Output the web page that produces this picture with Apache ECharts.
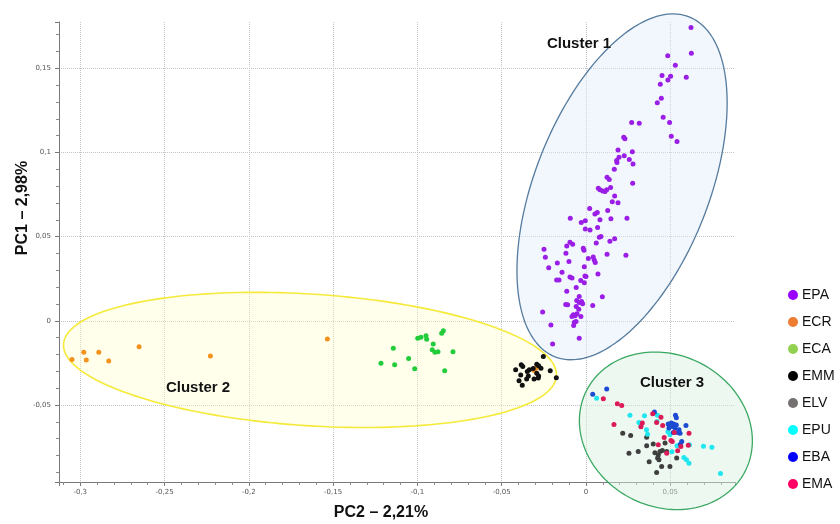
<!DOCTYPE html>
<html><head><meta charset="utf-8">
<script src="https://cdn.jsdelivr.net/npm/echarts@6/dist/echarts.min.js"></script>
<style>html,body{margin:0;padding:0;background:#fff}#c{width:840px;height:524px}</style>
</head><body><div id="c"></div>
<script>
// ---- data ----
const groupNames = ['EPA','ECR','ECA','EMM','ELV','EPU','EBA','EMA'];
const xTickLabels = [-0.3,-0.25,-0.2,-0.15,-0.1,-0.05,0,0.05];
const yTickLabels = [-0.05,0,0.05,0.1,0.15];
const EPA = [[0.0623,0.1742],[0.0625,0.1590],[0.0485,0.1575],[0.0530,0.1518],[0.0451,0.1457],[0.0502,0.1453],[0.0486,0.1431],[0.0595,0.1447],[0.0441,0.1406],[0.0447,0.1322],[0.0423,0.1296],[0.0458,0.1210],[0.0496,0.1178],[0.0271,0.1178],[0.0316,0.1174],[0.0224,0.1091],[0.0231,0.1081],[0.0506,0.1097],[0.0540,0.1065],[0.0190,0.1015],[0.0275,0.1005],[0.0227,0.0980],[0.0196,0.0972],[0.0182,0.0952],[0.0184,0.0940],[0.0257,0.0958],[0.0279,0.0931],[0.0168,0.0901],[0.0125,0.0853],[0.0138,0.0839],[0.0277,0.0818],[0.0073,0.0788],[0.0083,0.0778],[0.0099,0.0772],[0.0113,0.0768],[0.0123,0.0778],[0.0146,0.0792],[0.0170,0.0742],[0.0156,0.0707],[0.0190,0.0702],[0.0022,0.0667],[0.0129,0.0655],[0.0053,0.0635],[0.0067,0.0643],[-0.0093,0.0610],[0.0083,0.0600],[0.0148,0.0606],[0.0243,0.0610],[-0.0028,0.0584],[-0.0004,0.0594],[0.0069,0.0554],[-0.0004,0.0545],[0.0024,0.0540],[0.0170,0.0487],[0.0142,0.0473],[0.0079,0.0497],[0.0089,0.0501],[0.0061,0.0463],[-0.0095,0.0467],[-0.0079,0.0455],[-0.0114,0.0445],[-0.0016,0.0432],[-0.0012,0.0420],[-0.0249,0.0426],[-0.0119,0.0402],[0.0125,0.0396],[0.0237,0.0390],[-0.0241,0.0378],[0.0014,0.0370],[0.0043,0.0380],[0.0049,0.0362],[0.0055,0.0346],[-0.0101,0.0352],[-0.0170,0.0343],[-0.0010,0.0322],[-0.0221,0.0315],[-0.0142,0.0289],[0.0071,0.0279],[-0.0095,0.0260],[-0.0083,0.0254],[-0.0006,0.0267],[0.0000,0.0263],[-0.0174,0.0243],[-0.0160,0.0243],[-0.0031,0.0239],[-0.0010,0.0227],[-0.0058,0.0198],[-0.0114,0.0176],[-0.0040,0.0144],[0.0097,0.0143],[-0.0055,0.0121],[-0.0040,0.0109],[-0.0026,0.0115],[-0.0020,0.0101],[-0.0120,0.0097],[-0.0109,0.0095],[0.0040,0.0091],[-0.0058,0.0085],[-0.0043,0.0069],[-0.0257,0.0052],[-0.0075,0.0036],[-0.0065,0.0030],[-0.0053,0.0042],[-0.0030,0.0026],[-0.0083,0.0026],[-0.0069,-0.0008],[-0.0059,-0.0004],[-0.0073,-0.0028],[-0.0208,-0.0024],[-0.0040,-0.0103],[-0.0198,-0.0138]];
const ECR = [[-0.3049,-0.0230],[-0.2979,-0.0186],[-0.2964,-0.0233],[-0.2890,-0.0186],[-0.2831,-0.0239],[-0.2651,-0.0153],[-0.2228,-0.0208],[-0.1534,-0.0107],[-0.0307,-0.0295],[-0.0295,-0.0280]];
const ECA = [[-0.1216,-0.0251],[-0.1143,-0.0162],[-0.1135,-0.0261],[-0.1052,-0.0224],[-0.1016,-0.0285],[-0.0998,-0.0103],[-0.0979,-0.0097],[-0.0949,-0.0089],[-0.0945,-0.0109],[-0.0906,-0.0138],[-0.0912,-0.0172],[-0.0896,-0.0186],[-0.0878,-0.0184],[-0.0856,-0.0073],[-0.0846,-0.0059],[-0.0789,-0.0184],[-0.0838,-0.0297]];
const EMM = [[-0.0417,-0.0291],[-0.0387,-0.0321],[-0.0384,-0.0261],[-0.0375,-0.0271],[-0.0397,-0.0356],[-0.0378,-0.0382],[-0.0348,-0.0301],[-0.0342,-0.0327],[-0.0352,-0.0346],[-0.0336,-0.0291],[-0.0313,-0.0283],[-0.0292,-0.0257],[-0.0281,-0.0267],[-0.0267,-0.0281],[-0.0292,-0.0311],[-0.0281,-0.0327],[-0.0308,-0.0346],[-0.0283,-0.0340],[-0.0253,-0.0212],[-0.0212,-0.0297],[-0.0176,-0.0338]];
const ELV = [[0.0218,-0.0667],[0.0265,-0.0681],[0.0360,-0.0691],[0.0360,-0.0742],[0.0399,-0.0732],[0.0310,-0.0776],[0.0255,-0.0786],[0.0375,-0.0836],[0.0429,-0.0796],[0.0425,-0.0815],[0.0439,-0.0776],[0.0453,-0.0770],[0.0479,-0.0776],[0.0469,-0.0726],[0.0449,-0.0865],[0.0498,-0.0865],[0.0419,-0.0901],[0.0538,-0.0815],[0.0409,-0.0784],[0.0433,-0.0825]];
const EPU = [[0.0063,-0.0459],[0.0261,-0.0561],[0.0347,-0.0564],[0.0424,-0.0561],[0.0314,-0.0603],[0.0326,-0.0624],[0.0359,-0.0647],[0.0365,-0.0674],[0.0421,-0.0597],[0.0510,-0.0778],[0.0540,-0.0742],[0.0498,-0.0677],[0.0581,-0.0811],[0.0596,-0.0825],[0.0611,-0.0846],[0.0614,-0.0736],[0.0697,-0.0745],[0.0747,-0.0751],[0.0798,-0.0906],[0.0486,-0.0659]];
const EBA = [[0.0040,-0.0436],[0.0123,-0.0404],[0.0406,-0.0542],[0.0531,-0.0561],[0.0536,-0.0576],[0.0488,-0.0613],[0.0506,-0.0607],[0.0520,-0.0613],[0.0536,-0.0619],[0.0492,-0.0637],[0.0512,-0.0628],[0.0528,-0.0637],[0.0552,-0.0647],[0.0558,-0.0667],[0.0518,-0.0663],[0.0544,-0.0663],[0.0593,-0.0622],[0.0568,-0.0717],[0.0560,-0.0733]];
const EMA = [[0.0103,-0.0463],[0.0186,-0.0493],[0.0212,-0.0503],[0.0166,-0.0615],[0.0334,-0.0607],[0.0326,-0.0629],[0.0419,-0.0604],[0.0445,-0.0572],[0.0455,-0.0622],[0.0524,-0.0663],[0.0611,-0.0667],[0.0464,-0.0693],[0.0504,-0.0711],[0.0512,-0.0717],[0.0429,-0.0736],[0.0563,-0.0746],[0.0544,-0.0772],[0.0607,-0.0738],[0.0479,-0.0786],[0.0396,-0.0552]];
const groupData = [EPA, ECR, ECA, EMM, ELV, EPU, EBA, EMA];
// cluster ellipses: [centerX, centerY, semiMajor, semiMinor, angleDeg]
const clusterNames = ['Cluster 1','Cluster 2','Cluster 3'];
const clusterEllipses = [[0.0214,0.0796,0.1085,0.0516,68.5],[-0.1637,-0.0232,0.1465,0.0391,-3.7],[0.0474,-0.0653,0.0528,0.0451,-27]];

// ---- styles ----
const pointColors = ['#9a1ee6','#f5921e','#22cc3a','#111111','#3f3f3f','#20e6ef','#1c4ad2','#dc1a58'];
const legendColors = ['#9900ff','#ed7d31','#92d050','#000000','#767171','#00ffff','#0000ff','#ff0066'];
const ellFill = ['rgba(225,237,250,0.45)','rgba(255,255,200,0.35)','rgba(215,240,222,0.45)'];
const ellStroke = ['#557b9e','#f5ea3a','#3aa862'];

const chart = echarts.init(document.getElementById('c'), null, {renderer:'canvas'});
function fmt(v){
  if (Math.abs(v*20 - Math.round(v*20)) > 1e-6) return '';
  const r = Math.round(v*100)/100;
  return String(r).replace('.', ',');
}
const axisCommon = {
  type:'value',
  splitLine:{show:true, showMinLine:false, showMaxLine:false, lineStyle:{color:'#c4c4c4', type:'dotted', width:1}},
  axisLine:{show:true, onZero:false, lineStyle:{color:'#7a7a7a', width:1}},
  axisTick:{show:true, length:4, lineStyle:{color:'#7a7a7a'}},
  minorTick:{show:true, splitNumber:5, length:3, lineStyle:{color:'#8a8a8a'}},
  axisLabel:{fontSize:7, color:'#555', fontFamily:'DejaVu Sans', formatter:fmt, showMinLabel:false, showMaxLabel:false},
};
const series = [{
  type:'custom', name:'clusters', z:1, clip:false, silent:true,
  encode:{x:0, y:1},
  data: clusterEllipses,
  renderItem: function(params, api){
    const cx=api.value(0), cy=api.value(1), a=api.value(2), b=api.value(3), ang=api.value(4)*Math.PI/180;
    const pts=[];
    for(let i=0;i<180;i++){
      const t=i/180*2*Math.PI, ux=a*Math.cos(t), uy=b*Math.sin(t);
      pts.push(api.coord([cx+ux*Math.cos(ang)-uy*Math.sin(ang), cy+ux*Math.sin(ang)+uy*Math.cos(ang)]));
    }
    const i=params.dataIndex;
    return {type:'polygon', shape:{points:pts}, style:{fill:ellFill[i], stroke:ellStroke[i], lineWidth: i===1?1.6:1.3}};
  }
}];
groupNames.forEach((n,i)=>{
  series.push({type:'scatter', name:n, data:groupData[i], symbol:'circle', symbolSize:5, z:3,
    itemStyle:{color:pointColors[i], opacity:1}});
});
const titleFont = 'bold 16px "Liberation Sans"';
const clusterFont = 'bold 15px "Liberation Sans"';
chart.setOption({
  animation:false,
  backgroundColor:'#ffffff',
  grid:{left:59, right:105, top:22, bottom:42, containLabel:false},
  xAxis: Object.assign({}, axisCommon, {min:-0.3126, max:0.0884, splitNumber:8,
    axisLabel:Object.assign({}, axisCommon.axisLabel, {margin:7})}),
  yAxis: Object.assign({}, axisCommon, {min:-0.0957, max:0.1775, splitNumber:5,
    axisLabel:Object.assign({}, axisCommon.axisLabel, {margin:8})}),
  legend:{
    orient:'vertical', left:783, top:283, itemWidth:10, itemHeight:10, itemGap:13, icon:'circle',
    textStyle:{fontSize:14, color:'#111', fontFamily:'Liberation Sans', padding:[0,0,0,-1]},
    data: groupNames.map((n,i)=>({name:n, itemStyle:{color:legendColors[i]}}))
  },
  graphic:[
    {type:'text', z:100, zlevel:1, style:{text:'PC2 – 2,21%', font:titleFont, fill:'#111', textAlign:'center', textVerticalAlign:'middle'}, x:381, y:513},
    {type:'text', z:100, zlevel:1, style:{text:'PC1 – 2,98%', font:titleFont, fill:'#111', textAlign:'center', textVerticalAlign:'middle'}, x:23, y:208, rotation:Math.PI/2},
    {type:'text', z:100, zlevel:1, style:{text:clusterNames[0], font:clusterFont, fill:'#111', textAlign:'center', textVerticalAlign:'middle'}, x:579, y:44},
    {type:'text', z:100, zlevel:1, style:{text:clusterNames[1], font:clusterFont, fill:'#111', textAlign:'center', textVerticalAlign:'middle'}, x:198, y:388},
    {type:'text', z:100, zlevel:1, style:{text:clusterNames[2], font:clusterFont, fill:'#111', textAlign:'center', textVerticalAlign:'middle'}, x:672, y:383}
  ],
  series: series
});
</script></body></html>
